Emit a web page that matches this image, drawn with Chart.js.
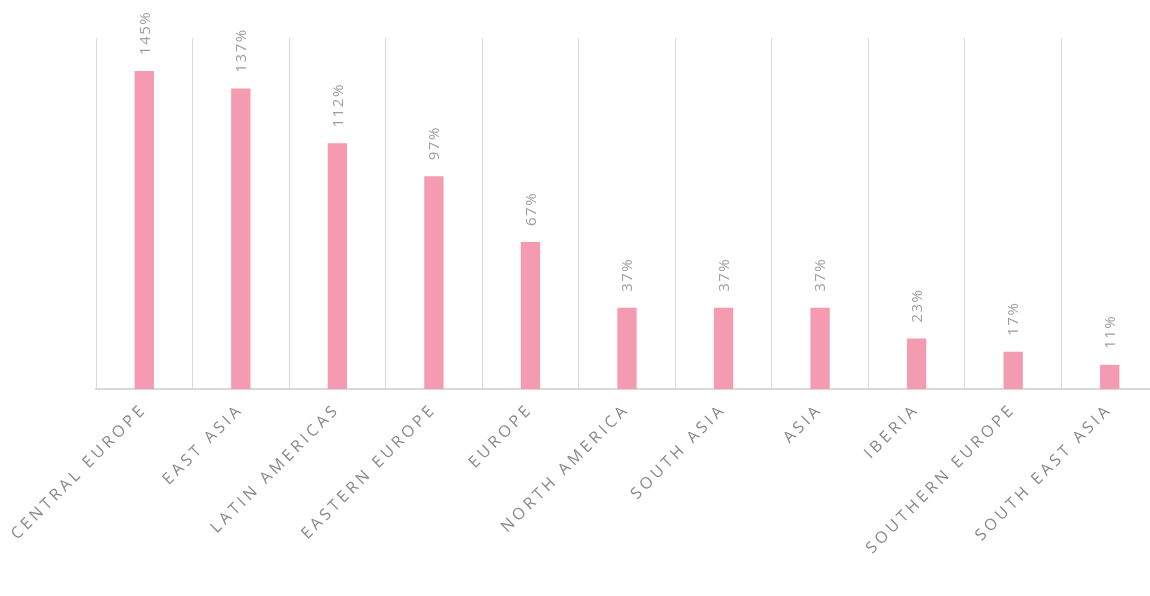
<!DOCTYPE html>
<html>
<head>
<meta charset="utf-8">
<script src="https://cdn.jsdelivr.net/npm/chart.js@4/dist/chart.umd.min.js"></script>
<style>
    html, body { margin: 0; padding: 0; background: #fff; overflow: hidden; }
    #wrap { width: 1160px; height: 596px; position: relative; }
</style>
</head>
<body>
<div id="wrap"><canvas id="growthChart"></canvas></div>
<script>
const regions = ['CENTRAL EUROPE', 'EAST ASIA', 'LATIN AMERICAS', 'EASTERN EUROPE', 'EUROPE',
    'NORTH AMERICA', 'SOUTH ASIA', 'ASIA', 'IBERIA', 'SOUTHERN EUROPE', 'SOUTH EAST ASIA'];
const growth = [145, 137, 112, 97, 67, 37, 37, 37, 23, 17, 11];

const barColor = '#F49AB1';
const gridColor = '#d9d9d9';

// value labels above each bar, rotated to read bottom-to-top
const valueLabels = {
    id: 'valueLabels',
    afterDatasetsDraw(chart) {
        const ctx = chart.ctx;
        const meta = chart.getDatasetMeta(0);
        ctx.save();
        ctx.font = '15px "Open Sans"';
        ctx.fillStyle = '#9e9e9e';
        ctx.letterSpacing = '1.5px';
        ctx.textAlign = 'left';
        ctx.textBaseline = 'middle';
        meta.data.forEach((bar, i) => {
            ctx.save();
            ctx.translate(bar.x + 1, bar.y - 16);
            ctx.rotate(-Math.PI / 2);
            ctx.fillText(growth[i] + '%', 0, 0);
            ctx.restore();
        });
        ctx.restore();
    }
};

// the category labels are drawn with wide character spacing
const spacedTicks = {
    id: 'spacedTicks',
    beforeDraw(chart) {
        chart.ctx.letterSpacing = '3.6px';
    },
    beforeDatasetsDraw(chart) {
        chart.ctx.letterSpacing = '0px';
    }
};

new Chart(document.getElementById('growthChart'), {
    type: 'bar',
    data: {
        labels: regions,
        datasets: [{
            data: growth,
            backgroundColor: barColor,
            borderWidth: 0,
            barPercentage: 0.2,
            categoryPercentage: 1
        }]
    },
    options: {
        responsive: true,
        maintainAspectRatio: false,
        animation: false,
        layout: {
            padding: { left: 96, right: 2, top: 38, bottom: 0 }
        },
        plugins: {
            legend: { display: false },
            tooltip: { enabled: false }
        },
        scales: {
            x: {
                afterFit(scale) {
                    scale.height = 207;
                },
                grid: {
                    color: gridColor,
                    lineWidth: 1,
                    offset: true,
                    drawTicks: false
                },
                border: { color: gridColor, width: 2 },
                ticks: {
                    autoSkip: false,
                    minRotation: 45,
                    maxRotation: 45,
                    padding: 11,
                    color: '#888888',
                    font: { family: '"Open Sans"', size: 16 }
                }
            },
            y: {
                display: false,
                min: 0,
                max: 160
            }
        }
    },
    plugins: [spacedTicks, valueLabels]
});
</script>
</body>
</html>
